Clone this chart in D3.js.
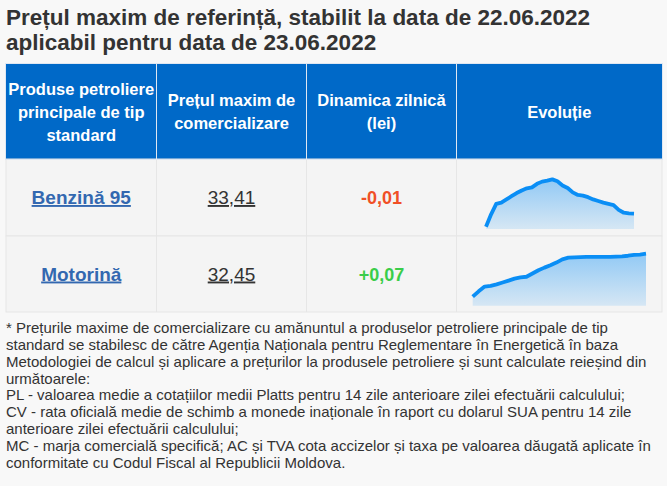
<!DOCTYPE html>
<html>
<head>
<meta charset="utf-8">
<script src="https://cdn.jsdelivr.net/npm/d3@7"></script>
<style>
  body { margin: 0; background: #f8f8f8; }
  svg { display: block; font-family: "Liberation Sans", Arial, sans-serif; }
</style>
</head>
<body>
<div id="chart"></div>
<script>
// data
const titleLines = [
  "Prețul maxim de referință, stabilit la data de 22.06.2022",
  "aplicabil pentru data de 23.06.2022"
];
const headers = [
  ["Produse petroliere", "principale de tip", "standard"],
  ["Prețul maxim de", "comercializare"],
  ["Dinamica zilnică", "(lei)"],
  ["Evoluție"]
];
const products = ["Benzină 95", "Motorină"];
const prices = [33.41, 32.45];
const changes = [-0.01, 0.07];
const benzinaSeries = [33.00, 33.39, 33.72, 33.76, 33.86, 33.96, 34.06, 34.14, 34.21, 34.24,
  34.35, 34.42, 34.45, 34.49, 34.43, 34.30, 34.22, 34.08, 34.00, 33.98,
  33.93, 33.86, 33.81, 33.76, 33.72, 33.68, 33.53, 33.44, 33.42, 33.41];
const motorinaSeries = [28.87, 29.32, 29.71, 29.77, 29.90, 30.05, 30.21, 30.37, 30.48, 30.53,
  30.80, 31.07, 31.29, 31.49, 31.71, 31.98, 32.12, 32.15, 32.16, 32.18,
  32.18, 32.18, 32.19, 32.19, 32.21, 32.23, 32.28, 32.35, 32.38, 32.45];
const series = [benzinaSeries, motorinaSeries];
const footnote = [
  "* Prețurile maxime de comercializare cu amănuntul a produselor petroliere principale de tip",
  "standard se stabilesc de către Agenția Naționala pentru Reglementare în Energetică în baza",
  "Metodologiei de calcul și aplicare a prețurilor la produsele petroliere și sunt calculate reieșind din",
  "următoarele:",
  "PL - valoarea medie a cotațiilor medii Platts pentru 14 zile anterioare zilei efectuării calculului;",
  "CV - rata oficială medie de schimb a monede inaționale în raport cu dolarul SUA pentru 14 zile",
  "anterioare zilei efectuării calculului;",
  "MC - marja comercială specifică; AC și TVA cota accizelor și taxa pe valoarea dăugată aplicate în",
  "conformitate cu Codul Fiscal al Republicii Moldova."
];

// layout
const width = 667, height = 486;
const colX = [6, 156.5, 306.5, 456.5, 662];
const headTop = 64, headBottom = 159;
const rowTops = [159, 236, 312];
// sparkline boxes: x range, line top / bottom, fill bottom
const spark = [
  {x0: 486, x1: 634, top: 179.4, low: 226.7, base: 229},
  {x0: 472.7, x1: 646, top: 253.7, low: 296.7, base: 305.7}
];

const fmt = v => d3.format(".2f")(Math.abs(v)).replace(".", ",");
const fmtSigned = v => (v > 0 ? "+" : v < 0 ? "-" : "") + fmt(v);

const svg = d3.select("#chart").append("svg")
  .attr("width", width)
  .attr("height", height);

const defs = svg.append("defs");
const grad = defs.append("linearGradient")
  .attr("id", "areaFill")
  .attr("x1", 0).attr("y1", 0).attr("x2", 0).attr("y2", 1);
grad.append("stop").attr("offset", "0%").attr("stop-color", "#0a8ef5").attr("stop-opacity", 0.42);
grad.append("stop").attr("offset", "100%").attr("stop-color", "#0a8ef5").attr("stop-opacity", 0.13);

// title
svg.append("g").selectAll("text")
  .data(titleLines)
  .join("text")
    .attr("x", 6)
    .attr("y", (d, i) => 25 + i * 24.5)
    .attr("font-size", 22.5)
    .attr("font-weight", "bold")
    .attr("fill", "#333")
    .text(d => d);

// header
svg.append("rect")
  .attr("x", colX[0]).attr("y", headTop)
  .attr("width", colX[4] - colX[0]).attr("height", headBottom - headTop)
  .attr("fill", "#0069c8");

// body cells
const body = svg.append("g");
products.forEach((p, r) => {
  body.append("rect")
    .attr("x", colX[0]).attr("y", rowTops[r])
    .attr("width", colX[4] - colX[0]).attr("height", rowTops[r + 1] - rowTops[r])
    .attr("fill", "#f4f4f4")
    .attr("stroke", "#e6e6e6");
});

// grid lines
const grid = svg.append("g");
colX.slice(1, 4).forEach(x => {
  grid.append("line")
    .attr("x1", x).attr("x2", x).attr("y1", headTop).attr("y2", headBottom)
    .attr("stroke", "#dfe7f2").attr("stroke-width", 1);
  grid.append("line")
    .attr("x1", x).attr("x2", x).attr("y1", headBottom).attr("y2", rowTops[2])
    .attr("stroke", "#e6e6e6").attr("stroke-width", 1);
});
svg.append("rect")
  .attr("x", colX[0] - 0.5).attr("y", headTop - 0.5)
  .attr("width", colX[4] - colX[0] + 1).attr("height", headBottom - headTop + 1)
  .attr("fill", "none").attr("stroke", "#dfe7f2");

headers.forEach((lines, c) => {
  const cx = (colX[c] + colX[c + 1]) / 2;
  const mid = (headTop + headBottom) / 2 + 6;
  const y0 = mid - (lines.length - 1) * 23 / 2;
  svg.append("g").selectAll("text")
    .data(lines)
    .join("text")
      .attr("x", cx)
      .attr("y", (d, i) => y0 + i * 23)
      .attr("text-anchor", "middle")
      .attr("font-size", 16.5)
      .attr("font-weight", "bold")
      .attr("fill", "#fff")
      .text(d => d);
});

// row texts
products.forEach((p, r) => {
  const cy = (rowTops[r] + rowTops[r + 1]) / 2 + 6.5;
  body.append("text")
    .attr("x", (colX[0] + colX[1]) / 2).attr("y", cy)
    .attr("text-anchor", "middle")
    .attr("font-size", 19).attr("font-weight", "bold")
    .attr("fill", "#3368b0")
    .attr("text-decoration", "underline")
    .text(p);
  body.append("text")
    .attr("x", (colX[1] + colX[2]) / 2).attr("y", cy)
    .attr("text-anchor", "middle")
    .attr("font-size", 19)
    .attr("fill", "#333")
    .attr("text-decoration", "underline")
    .text(fmt(prices[r]));
  body.append("text")
    .attr("x", (colX[2] + colX[3]) / 2).attr("y", cy)
    .attr("text-anchor", "middle")
    .attr("font-size", 18).attr("font-weight", "bold")
    .attr("fill", changes[r] < 0 ? "#f04f26" : "#3acd4a")
    .text(fmtSigned(changes[r]));
});

// sparklines
series.forEach((vals, r) => {
  const s = spark[r];
  const x = d3.scaleLinear().domain([0, vals.length - 1]).range([s.x0, s.x1]);
  const y = d3.scaleLinear().domain(d3.extent(vals)).range([s.low, s.top]);
  const g = svg.append("g");
  g.append("path")
    .datum(vals)
    .attr("fill", "url(#areaFill)")
    .attr("d", d3.area().x((d, i) => x(i)).y0(s.base).y1(d => y(d)));
  g.append("path")
    .datum(vals)
    .attr("fill", "none")
    .attr("stroke", "#0a8ef5")
    .attr("stroke-width", 3.8)
    .attr("stroke-linejoin", "round")
    .attr("d", d3.line().x((d, i) => x(i)).y(d => y(d)));
});

// footnote
svg.append("g").selectAll("text")
  .data(footnote)
  .join("text")
    .attr("x", 6)
    .attr("y", (d, i) => 333 + i * 16.85)
    .attr("font-size", 15)
    .attr("fill", "#333")
    .text(d => d);
</script>
</body>
</html>
